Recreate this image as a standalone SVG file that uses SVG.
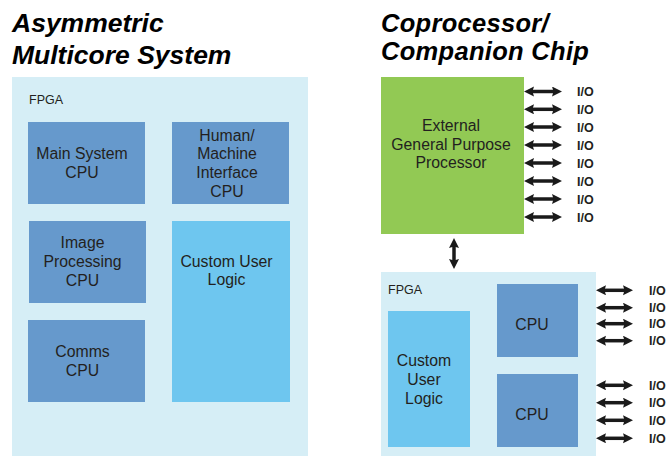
<svg xmlns="http://www.w3.org/2000/svg" width="669" height="456" viewBox="0 0 669 456">
<defs>
<marker id="ah" markerUnits="userSpaceOnUse" markerWidth="11" markerHeight="11" refX="3" refY="5" orient="auto-start-reverse">
<path d="M0,0 L10,5 L0,10 L1.5,5 Z" fill="#1a1a1a"/>
</marker>
<style>
.title{font-family:"Liberation Sans",Arial,sans-serif;font-weight:bold;font-style:italic;font-size:26.5px;fill:#000}
.title2{font-size:25.5px;letter-spacing:0.3px}
.lbl{font-family:"Liberation Sans",Arial,sans-serif;font-size:15.8px;fill:#231f20;text-anchor:middle}
.fpga{font-family:"Liberation Sans",Arial,sans-serif;font-size:12.5px;fill:#231f20}
.io{font-family:"Liberation Sans",Arial,sans-serif;font-weight:bold;font-size:12.5px;fill:#231f20}
.bg{fill:#d6eef6}
.cpu{fill:#6699cc}
.cul{fill:#6ec6ef}
.arr{stroke:#1a1a1a;stroke-width:3.5;fill:none;marker-start:url(#ah);marker-end:url(#ah)}
</style>
</defs>
<text class="title" x="12" y="32">Asymmetric</text>
<text class="title" x="12" y="64">Multicore System</text>
<text class="title title2" x="381" y="32">Coprocessor/</text>
<text class="title title2" x="381" y="60">Companion Chip</text>

<g id="fpga-left">
<rect class="bg" x="12" y="77" width="296" height="379"/>
<text class="fpga" x="29" y="104">FPGA</text>
</g>
<g id="main-cpu">
<rect class="cpu" x="28" y="122" width="117" height="82"/>
<text class="lbl" x="82" y="159">Main System</text>
<text class="lbl" x="82" y="178">CPU</text>
</g>
<g id="hmi-cpu">
<rect class="cpu" x="172" y="122" width="117" height="82"/>
<text class="lbl" x="227" y="141">Human/</text>
<text class="lbl" x="227" y="159">Machine</text>
<text class="lbl" x="227" y="178">Interface</text>
<text class="lbl" x="227" y="197">CPU</text>
</g>
<g id="img-cpu">
<rect class="cpu" x="29" y="221" width="117" height="82"/>
<text class="lbl" x="82.5" y="248">Image</text>
<text class="lbl" x="82.5" y="267">Processing</text>
<text class="lbl" x="82.5" y="286">CPU</text>
</g>
<g id="comms-cpu">
<rect class="cpu" x="28" y="320" width="117" height="82"/>
<text class="lbl" x="82.5" y="357">Comms</text>
<text class="lbl" x="82.5" y="376">CPU</text>
</g>
<g id="custom-left">
<rect class="cul" x="172" y="221" width="118" height="181"/>
<text class="lbl" x="226.5" y="267">Custom User</text>
<text class="lbl" x="226.5" y="285">Logic</text>
</g>

<g id="ext-proc">
<rect x="381" y="77" width="143" height="157" fill="#92c954"/>
<text class="lbl" x="451" y="131">External</text>
<text class="lbl" x="451" y="150">General Purpose</text>
<text class="lbl" x="451" y="168">Processor</text>
</g>
<g id="fpga-right">
<rect class="bg" x="381" y="272" width="215" height="184"/>
<text class="fpga" x="388" y="294">FPGA</text>
</g>
<g id="custom-right">
<rect class="cul" x="388" y="311" width="82" height="136"/>
<text class="lbl" x="424" y="366">Custom</text>
<text class="lbl" x="424" y="385">User</text>
<text class="lbl" x="424" y="404">Logic</text>
</g>
<g id="cpu-top">
<rect class="cpu" x="497" y="284" width="81" height="73"/>
<text class="lbl" x="532" y="330">CPU</text>
</g>
<g id="cpu-bottom">
<rect class="cpu" x="497" y="374" width="81" height="73"/>
<text class="lbl" x="532" y="420">CPU</text>
</g>

<g id="connectors">
<line class="arr" x1="454" y1="245" x2="454" y2="262"/>
<line class="arr" x1="531" y1="91.5" x2="555" y2="91.5"/>
<line class="arr" x1="531" y1="109.3" x2="555" y2="109.3"/>
<line class="arr" x1="531" y1="127" x2="555" y2="127"/>
<line class="arr" x1="531" y1="145" x2="555" y2="145"/>
<line class="arr" x1="531" y1="163" x2="555" y2="163"/>
<line class="arr" x1="531" y1="181" x2="555" y2="181"/>
<line class="arr" x1="531" y1="199" x2="555" y2="199"/>
<line class="arr" x1="531" y1="217" x2="555" y2="217"/>
<line class="arr" x1="603" y1="290.3" x2="626" y2="290.3"/>
<line class="arr" x1="603" y1="307.7" x2="626" y2="307.7"/>
<line class="arr" x1="603" y1="323.7" x2="626" y2="323.7"/>
<line class="arr" x1="603" y1="340.7" x2="626" y2="340.7"/>
<line class="arr" x1="603" y1="385.3" x2="626" y2="385.3"/>
<line class="arr" x1="603" y1="402.7" x2="626" y2="402.7"/>
<line class="arr" x1="603" y1="420.3" x2="626" y2="420.3"/>
<line class="arr" x1="603" y1="438.3" x2="626" y2="438.3"/>
</g>
<g id="io-labels">
<text class="io" x="577" y="96">I/O</text>
<text class="io" x="577" y="114">I/O</text>
<text class="io" x="577" y="131.5">I/O</text>
<text class="io" x="577" y="149.5">I/O</text>
<text class="io" x="577" y="167.5">I/O</text>
<text class="io" x="577" y="185.5">I/O</text>
<text class="io" x="577" y="203.5">I/O</text>
<text class="io" x="577" y="221.5">I/O</text>
<text class="io" x="649" y="295">I/O</text>
<text class="io" x="649" y="312">I/O</text>
<text class="io" x="649" y="328">I/O</text>
<text class="io" x="649" y="345">I/O</text>
<text class="io" x="649" y="390">I/O</text>
<text class="io" x="649" y="407">I/O</text>
<text class="io" x="649" y="425">I/O</text>
<text class="io" x="649" y="443">I/O</text>
</g>
</svg>
